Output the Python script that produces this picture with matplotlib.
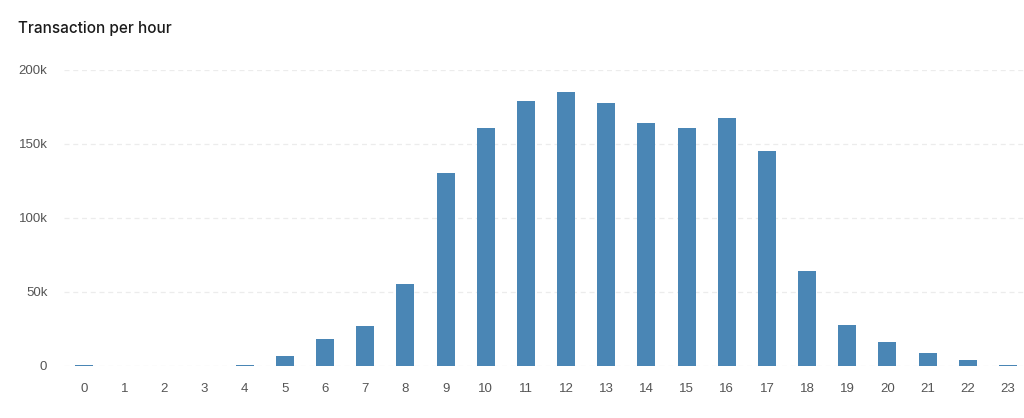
import matplotlib
matplotlib.use("Agg")
import matplotlib.pyplot as plt
from matplotlib.ticker import FuncFormatter

# ── Data ──────────────────────────────────────────────────────────────────────
hours = list(range(24))
transactions = [700, 0, 0, 0, 1000, 6800, 18000, 27000, 55500, 130500,
                161000, 179000, 185000, 177500, 164500, 161000, 167500, 145000,
                64000, 27500, 16500, 8500, 4000, 600]
y_ticks = [0, 50000, 100000, 150000, 200000]

# ── Style ─────────────────────────────────────────────────────────────────────
BAR_COLOR = "#4a86b5"
GRID_COLOR = "#ececec"
TICK_COLOR = "#555555"

fig = plt.figure(figsize=(10.24, 4.18), dpi=100)
ax = fig.add_axes([64 / 1024, 52 / 418, 960 / 1024, 296 / 418])

ax.bar(hours, transactions, width=0.45, color=BAR_COLOR, zorder=3)

ax.set_xlim(-0.5, 23.4)
ax.set_ylim(0, 200000)
ax.set_xticks(hours)
ax.set_yticks(y_ticks)
ax.yaxis.set_major_formatter(FuncFormatter(lambda v, _: "0" if v == 0 else f"{v / 1000:.0f}k"))

ax.grid(axis="y", color=GRID_COLOR, linestyle=(0, (4, 3)), linewidth=0.9, zorder=0)
for s in ax.spines.values():
    s.set_visible(False)
ax.tick_params(length=0, labelsize=9.5, labelcolor=TICK_COLOR)
ax.tick_params(axis="x", pad=12)
ax.tick_params(axis="y", pad=12)
for lbl in ax.get_xticklabels() + ax.get_yticklabels():
    lbl.set_fontfamily("Liberation Sans")

fig.text(18 / 1024, 1 - 28 / 418, "Transaction per hour", fontsize=11,
         family="Inter", fontweight="medium", color="#1a1a1a", va="center", ha="left")

fig.savefig("out.png", dpi=100)
